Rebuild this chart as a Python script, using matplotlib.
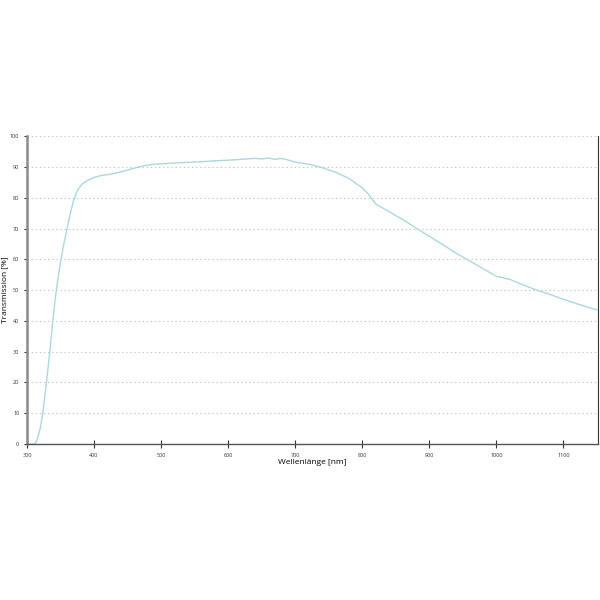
import numpy as np
import matplotlib
matplotlib.use('Agg')
from matplotlib import pyplot as plt

wavelength = [300, 310, 313, 316, 320, 324, 329, 334, 338, 342, 346, 350, 354, 360, 365, 370, 375, 382,
              390, 400, 410, 420, 430, 440, 450, 460, 470, 480, 490, 500, 520, 540, 560, 580,
              600, 620, 640, 650, 660, 670, 680, 700, 720, 740, 760, 780, 800, 810, 820, 840,
              860, 880, 900, 920, 940, 960, 980, 1000, 1020, 1040, 1060, 1080, 1100, 1120, 1140, 1150]
transmission = [0.0, 0.0, 0.3, 2.0, 5.4, 10.8, 20.0, 30.0, 39.0, 47.0, 53.5, 59.0, 64.0, 70.3, 75.3, 79.5, 82.3, 84.4,
                85.6, 86.6, 87.2, 87.5, 87.9, 88.4, 89.0, 89.6, 90.2, 90.6, 90.9, 91.0, 91.3, 91.5, 91.7, 92.0,
                92.2, 92.5, 92.8, 92.6, 92.9, 92.5, 92.8, 91.6, 90.9, 89.8, 88.3, 86.3, 83.2, 81.0, 78.0, 75.5,
                73.0, 70.2, 67.5, 64.8, 62.0, 59.5, 57.0, 54.5, 53.5, 51.7, 50.0, 48.6, 47.0, 45.6, 44.2, 43.6]

plt.rcParams['font.family'] = ['Open Sans', 'DejaVu Sans']

fig = plt.figure(figsize=(6, 6), dpi=100)
ax = fig.add_axes([0.045, 0.26, 0.952, 0.513])

ax.plot(wavelength, transmission, color='#a9d9dd', linewidth=1.0)

ax.set_xlim(300, 1152)
ax.set_ylim(0, 100)
ax.set_xticks(np.arange(300, 1101, 100))
ax.set_yticks(np.arange(0, 101, 10))
ax.tick_params(axis='both', labelsize=4, colors='#333333', length=3, width=0.8)
ax.tick_params(axis='x', direction='inout', length=6)
ax.tick_params(axis='y', direction='out', length=2)

ax.yaxis.grid(True, linestyle=(0, (1.2, 2.5)), color='#c4c4c4', linewidth=0.8)
ax.set_axisbelow(True)

ax.spines['top'].set_visible(False)
ax.spines['left'].set_linewidth(1.8)
ax.spines['left'].set_color('#8a8a8a')
ax.spines['bottom'].set_linewidth(1.0)
ax.spines['bottom'].set_color('#555555')
ax.spines['right'].set_linewidth(0.8)
ax.spines['right'].set_color('#333333')

ax.set_xlabel('Wellenlänge [nm]', fontsize=6, labelpad=1)
ax.set_ylabel('Transmission [%]', fontsize=6)
ax.yaxis.set_label_coords(-0.033, 0.5)

fig.savefig('out.png', dpi=100)
